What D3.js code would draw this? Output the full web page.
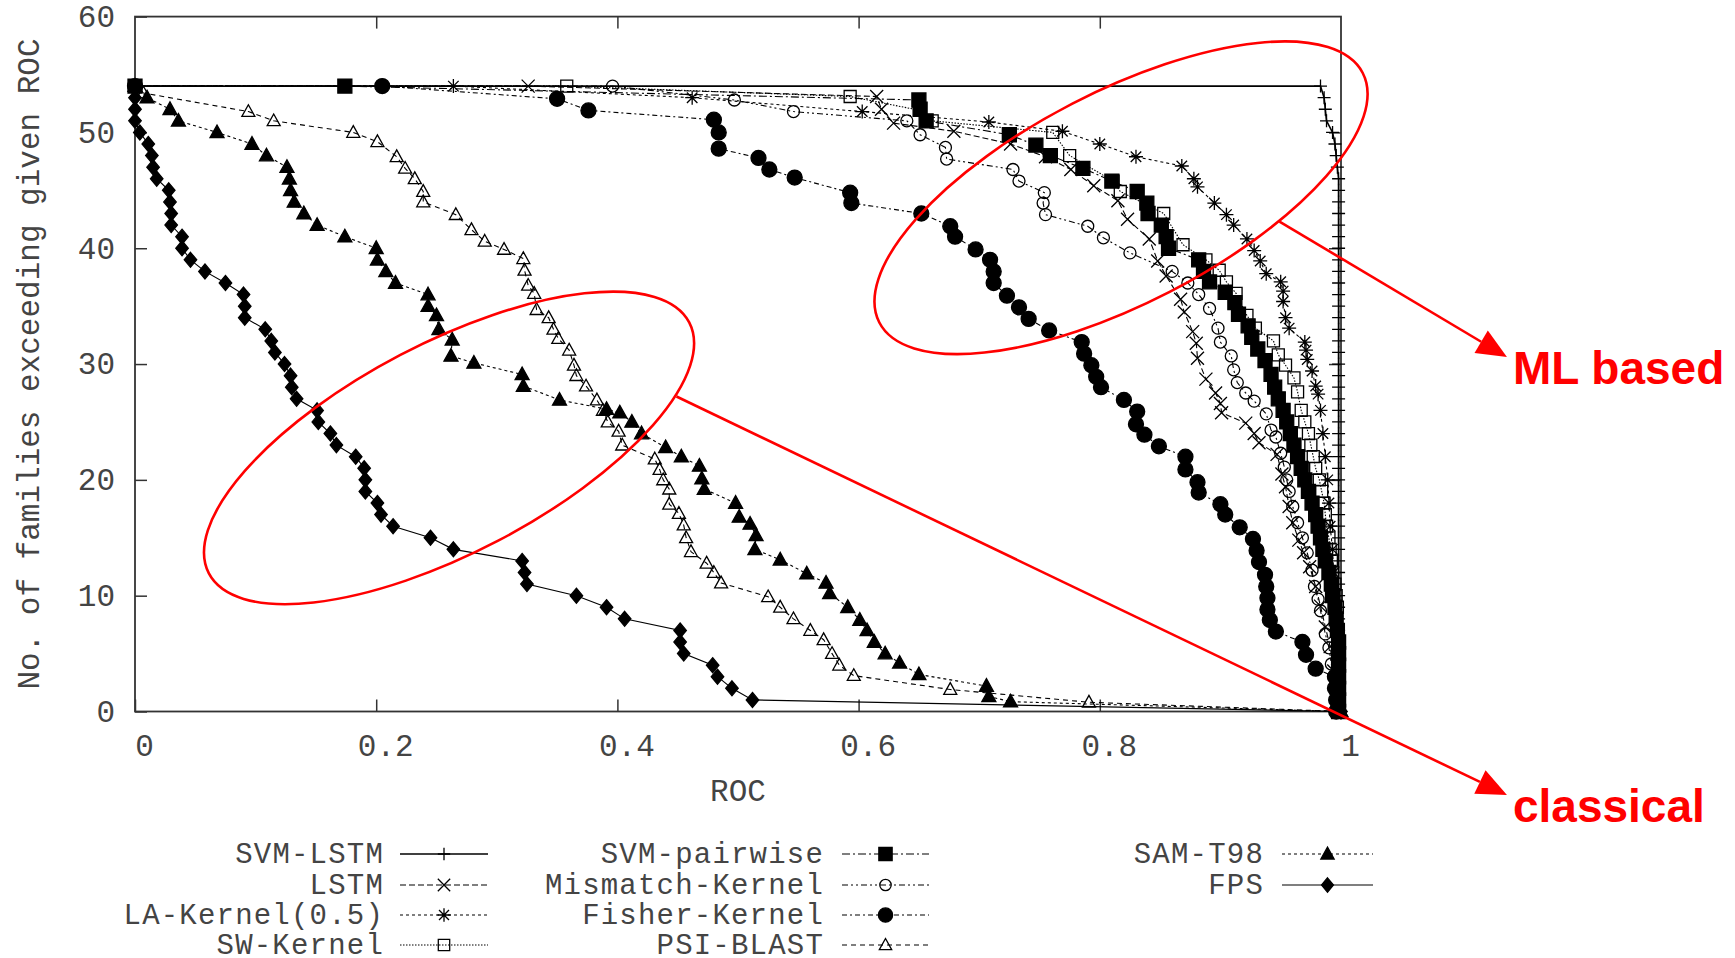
<!DOCTYPE html>
<html>
<head>
<meta charset="utf-8">
<script src="https://cdn.jsdelivr.net/npm/d3@7"></script>
<style>
  body { margin: 0; background: #fff; }
  .mono { font-family: "Liberation Mono", "DejaVu Sans Mono", monospace; }
</style>
</head>
<body>
<svg id="chart" width="1735" height="958"></svg>
<script>
// ---- data: [ROC, no. of families] ----
const xTicks = [0, 0.2, 0.4, 0.6, 0.8, 1];
const yTicks = [0, 10, 20, 30, 40, 50, 60];

const svmLstm = [[0,54],[0.983,54],[0.986,53],[0.987,52],[0.988,51],[0.993,50],[0.995,49],[0.996,48],[0.997,47],
  [0.998,46],[0.998,45],[0.998,44],[0.998,43],[0.998,42],[0.998,41],[0.998,40],[0.998,39],[0.998,38],[0.998,37],
  [0.998,36],[0.998,35],[0.998,34],[0.998,33],[0.998,32],[0.998,31],[0.998,30],[0.998,29],[0.998,28],[0.998,27],
  [0.998,26],[0.998,25],[0.998,24],[0.998,23],[0.998,22],[0.998,21],[0.998,20],[0.998,19],[0.998,18],[0.998,17],
  [0.998,16],[0.998,15],[0.998,14],[0.998,13],[0.998,12],[0.998,11],[0.998,10],[0.998,9],[0.998,8],[0.998,7],
  [0.998,6],[0.998,5],[0.998,4],[0.998,3],[0.998,2],[0.998,1],[0.998,0]];

const lstm = [[0,54],[0.326,54],[0.615,53.1],[0.619,52],[0.629,50.8],[0.679,50.1],[0.726,49],[0.755,47.9],[0.776,46.8],
  [0.795,45.4],[0.815,44.1],[0.823,42.5],[0.841,40.8],[0.848,38.9],[0.855,37.6],[0.867,35.6],[0.87,34.5],[0.877,32.8],
  [0.88,31.8],[0.881,30.5],[0.888,28.7],[0.896,27.5],[0.9,26.6],[0.901,25.8],[0.921,24.9],[0.928,24],[0.932,23.2],
  [0.947,22.2],[0.951,20.5],[0.954,19.4],[0.957,17.7],[0.96,16.3],[0.965,14.8],[0.969,13.7],[0.974,12.5],[0.979,10.8],
  [0.983,9.1],[0.987,7.3],[0.991,5.6],[0.994,3.5],[0.996,2],[0.997,0]];

const laKernel = [[0,54],[0.264,54],[0.462,53],[0.603,51.8],[0.708,50.9],[0.769,50.1],[0.8,49],[0.83,47.9],[0.868,47.1],
  [0.878,46],[0.881,45.3],[0.895,43.9],[0.905,42.9],[0.911,42],[0.922,40.8],[0.928,39.8],[0.933,38.9],[0.938,37.8],
  [0.95,37.1],[0.952,36.3],[0.952,35.4],[0.954,34],[0.957,33.1],[0.97,31.9],[0.971,31.2],[0.972,30.4],[0.976,29.4],
  [0.979,28.1],[0.981,27.4],[0.983,26],[0.985,24],[0.987,22],[0.989,20],[0.99,18],[0.991,16],[0.993,14],[0.994,12],
  [0.995,10],[0.996,8],[0.997,6],[0.998,4],[0.998,2],[0.999,0]];

const swKernel = [[0,54],[0.358,54],[0.593,53.1],[0.651,51.9],[0.661,51],[0.761,50],[0.775,48],[0.811,45.8],[0.817,44.9],
  [0.853,43],[0.869,40.3],[0.888,39],[0.899,38.1],[0.905,37.1],[0.913,36.1],[0.922,34.2],[0.929,33.1],[0.944,32],
  [0.948,30.8],[0.954,29.9],[0.961,28.8],[0.964,27.6],[0.967,26],[0.97,25],[0.973,24],[0.975,23],[0.977,22],[0.979,21],
  [0.982,20],[0.984,19],[0.986,18],[0.987,17],[0.988,16],[0.99,15],[0.991,14],[0.992,13],[0.993,12],[0.995,11],
  [0.996,10],[0.997,9],[0.997,7],[0.998,5],[0.998,3],[0.998,1],[0.998,0]];

const svmPairwise = [[0,54],[0.174,54],[0.65,52.8],[0.651,52],[0.656,51],[0.725,49.8],[0.747,48.9],[0.759,48],[0.786,46.9],
  [0.81,45.8],[0.831,44.9],[0.839,43.9],[0.84,43],[0.851,42],[0.855,41],[0.857,40],[0.882,39],[0.886,38],[0.891,37.1],
  [0.904,36.2],[0.912,35.3],[0.915,34.3],[0.923,33.3],[0.926,32.3],[0.931,31.3],[0.937,30.3],[0.942,29.1],[0.945,28],
  [0.948,27],[0.952,26],[0.955,25],[0.958,24],[0.961,23],[0.964,22],[0.967,21],[0.97,20],[0.973,19],[0.976,18],
  [0.979,17],[0.981,16],[0.983,15],[0.985,14],[0.987,13],[0.99,12],[0.992,11],[0.993,10],[0.995,9],[0.996,8],
  [0.997,7],[0.998,6],[0.998,5],[0.998,4],[0.998,3],[0.998,2],[0.998,1],[0.998,0]];

const mismatch = [[0,54],[0.396,54],[0.497,52.8],[0.546,51.8],[0.64,51],[0.651,49.8],[0.672,48.7],[0.673,47.7],[0.728,46.8],
  [0.733,45.8],[0.754,44.8],[0.753,43.9],[0.755,42.9],[0.79,41.9],[0.803,40.9],[0.825,39.6],[0.86,38],[0.873,37],
  [0.882,36],[0.891,34.8],[0.898,33.1],[0.9,31.9],[0.909,30.7],[0.911,29.5],[0.914,28.4],[0.921,27.5],[0.928,26.8],
  [0.938,25.7],[0.942,24.3],[0.946,23.7],[0.95,22.3],[0.953,21.1],[0.955,20],[0.957,19],[0.96,17.7],[0.964,16.3],
  [0.968,15],[0.972,13.7],[0.976,12.2],[0.978,10.8],[0.981,9.7],[0.983,8.7],[0.987,6.7],[0.99,5.5],[0.992,4.1],
  [0.994,3],[0.995,2],[0.996,1],[0.997,0]];

const fisher = [[0,54],[0.205,54],[0.35,52.9],[0.376,51.9],[0.48,51.1],[0.484,50],[0.484,48.6],[0.517,47.8],[0.526,46.8],
  [0.547,46.1],[0.593,44.8],[0.594,43.9],[0.652,43],[0.676,41.9],[0.68,41],[0.697,39.9],[0.709,39],[0.712,38],[0.712,37],
  [0.723,35.9],[0.733,34.9],[0.741,33.9],[0.758,32.9],[0.785,31.9],[0.787,30.9],[0.793,29.9],[0.797,28.9],[0.801,28],
  [0.82,26.9],[0.831,25.9],[0.83,24.8],[0.837,23.9],[0.849,22.9],[0.871,22],[0.871,20.9],[0.881,19.8],[0.882,18.9],
  [0.9,17.9],[0.904,17],[0.916,15.9],[0.927,14.9],[0.93,13.9],[0.932,12.9],[0.937,11.8],[0.938,10.8],[0.939,9.8],
  [0.939,8.8],[0.941,7.9],[0.946,6.9],[0.968,6],[0.971,4.9],[0.979,3.7],[0.995,3],[0.995,2],[0.996,1],[0.996,0]];

const psiBlast = [[0,54],[0.007,53.4],[0.094,51.8],[0.115,51],[0.181,50],[0.201,49.2],[0.217,47.9],[0.224,46.9],[0.232,46],
  [0.239,44.9],[0.239,44],[0.266,42.9],[0.279,41.6],[0.29,40.6],[0.306,39.9],[0.322,39.1],[0.323,38.1],[0.326,36.8],
  [0.331,36.1],[0.333,34.7],[0.343,34],[0.347,33],[0.351,32.2],[0.36,31.2],[0.364,29.9],[0.366,29],[0.374,28.1],
  [0.383,26.9],[0.388,26],[0.392,25],[0.401,24.2],[0.404,23],[0.431,21.8],[0.435,20.9],[0.438,20],[0.443,19.2],
  [0.443,17.9],[0.451,17.1],[0.455,16.1],[0.457,15],[0.461,13.8],[0.474,12.8],[0.48,12],[0.486,11.1],[0.525,9.9],
  [0.535,9],[0.546,8],[0.56,7],[0.571,6.2],[0.578,5],[0.584,4],[0.596,3.1],[0.676,1.9],[0.791,0.8],[1,0]];

const samT98 = [[0,54],[0.01,53],[0.029,52],[0.036,51],[0.068,50],[0.097,49],[0.109,48],[0.126,47],[0.128,46],[0.129,45],
  [0.132,44],[0.14,43],[0.151,42],[0.174,41],[0.2,40],[0.201,39],[0.208,38],[0.216,37],[0.243,36],[0.243,35],
  [0.25,34.2],[0.252,33],[0.263,32.1],[0.262,30.7],[0.281,30.1],[0.321,29.1],[0.322,28.1],[0.352,26.9],[0.391,26.1],
  [0.402,25.8],[0.412,25],[0.42,24],[0.44,22.8],[0.453,22],[0.468,21.2],[0.47,20.1],[0.472,19.2],[0.498,18],
  [0.501,16.8],[0.51,16.2],[0.515,15.2],[0.514,14],[0.535,13.1],[0.557,11.9],[0.573,11.1],[0.576,10.2],[0.591,9],
  [0.601,7.9],[0.607,7],[0.613,6],[0.622,5],[0.634,4.2],[0.65,3.2],[0.706,2.2],[0.708,1.3],[0.726,0.85],[1,0]];

const fps = [[0,54],[0,53],[0,52],[0,51],[0.004,50],[0.011,49],[0.014,48],[0.015,47],[0.018,46],[0.028,45],[0.029,44],
  [0.03,43],[0.03,42],[0.039,41],[0.039,40],[0.046,39],[0.058,38],[0.075,37],[0.09,36],[0.091,35],[0.091,34],[0.108,33],
  [0.113,32],[0.116,31],[0.124,30],[0.129,29],[0.13,28],[0.134,27],[0.151,26],[0.152,25],[0.162,24],[0.167,23],
  [0.183,22],[0.19,21],[0.191,20],[0.191,19],[0.201,18],[0.204,17],[0.214,16],[0.245,15],[0.264,14],[0.321,13],
  [0.323,12],[0.325,11],[0.366,10],[0.391,9],[0.406,8],[0.452,7],[0.452,6],[0.455,5],[0.479,4],[0.483,3],[0.495,2],
  [0.512,1],[1,0]];

// legend order, with the gnuplot style of each curve
const series = [
  {name: "SVM-LSTM",        values: svmLstm,     marker: "plus",     size: 13, filled: false, dash: null,            width: 1.6},
  {name: "LSTM",            values: lstm,        marker: "cross",    size: 13, filled: false, dash: "6,3",           width: 1.1},
  {name: "LA-Kernel(0.5)",  values: laKernel,    marker: "star",     size: 14, filled: false, dash: "3,3",           width: 1.1},
  {name: "SW-Kernel",       values: swKernel,    marker: "square",   size: 12, filled: false, dash: "1.5,1.5",       width: 1.1},
  {name: "SVM-pairwise",    values: svmPairwise, marker: "square",   size: 14, filled: true,  dash: "8,3,2,3",       width: 1.1},
  {name: "Mismatch-Kernel", values: mismatch,    marker: "circle",   size: 12, filled: false, dash: "6,3,2,3,2,3",   width: 1.1},
  {name: "Fisher-Kernel",   values: fisher,      marker: "circle",   size: 15, filled: true,  dash: "5,3,2,3",       width: 1.1},
  {name: "PSI-BLAST",       values: psiBlast,    marker: "triangle", size: 13, filled: false, dash: "5,4",           width: 1.1},
  {name: "SAM-T98",         values: samT98,      marker: "triangle", size: 14, filled: true,  dash: "3,3",           width: 1.1},
  {name: "FPS",             values: fps,         marker: "diamond",  size: 12.5, filled: true, dash: null,           width: 1.1}
];

// ---- layout ----
const svg = d3.select("#chart");
svg.append("rect").attr("width", 1735).attr("height", 958).attr("fill", "#fff");

const plot = {left: 135, right: 1341, top: 16.6, bottom: 711.5};
const x = d3.scaleLinear().domain([0, 1]).range([plot.left, plot.right]);
const y = d3.scaleLinear().domain([0, 60]).range([plot.bottom, plot.top]);
const axisColor = "#333";
const textColor = "#444";

function markerPath(type, s) {
  const h = s / 2;
  switch (type) {
    case "plus": return `M${-h},0H${h}M0,${-h}V${h}`;
    case "cross": return `M${-h},${-h}L${h},${h}M${-h},${h}L${h},${-h}`;
    case "star": {
      const c = h * 0.75;
      return `M${-h},0H${h}M0,${-h}V${h}M${-c},${-c}L${c},${c}M${-c},${c}L${c},${-c}`;
    }
    case "square": return `M${-h},${-h}H${h}V${h}H${-h}Z`;
    case "circle": return `M${h},0A${h},${h} 0 1,1 ${-h},0A${h},${h} 0 1,1 ${h},0Z`;
    case "triangle": return `M0,${-h * 1.05}L${h},${h * 0.75}L${-h},${h * 0.75}Z`;
    case "diamond": return `M0,${-h * 1.2}L${h},0L0,${h * 1.2}L${-h},0Z`;
  }
}

// axes
const gx = svg.append("g").attr("transform", `translate(0,${plot.bottom})`)
  .call(d3.axisBottom(x).tickValues(xTicks).tickSizeInner(-12).tickSizeOuter(0).tickPadding(22).tickFormat(d => String(d)));
gx.selectAll("text").attr("dx", 9);

const gy = svg.append("g").attr("transform", `translate(${plot.left},0)`)
  .call(d3.axisLeft(y).tickValues(yTicks).tickSizeInner(-12).tickSizeOuter(0).tickPadding(20));

const gt = svg.append("g").attr("transform", `translate(0,${plot.top})`)
  .call(d3.axisTop(x).tickValues(xTicks.slice(1, -1)).tickSizeInner(-12).tickSizeOuter(0).tickFormat(""));
const gr = svg.append("g").attr("transform", `translate(${plot.right},0)`)
  .call(d3.axisRight(y).tickValues(yTicks.slice(1, -1)).tickSizeInner(-12).tickSizeOuter(0).tickFormat(""));

[gx, gy, gt, gr].forEach(g => {
  g.select(".domain").remove();
  g.selectAll("line").attr("stroke", axisColor).attr("stroke-width", 1.5);
  g.selectAll("text").attr("class", "mono").attr("font-family", null)
    .attr("font-size", 31).attr("fill", textColor);
});

svg.append("rect")
  .attr("x", plot.left).attr("y", plot.top)
  .attr("width", plot.right - plot.left).attr("height", plot.bottom - plot.top)
  .attr("fill", "none").attr("stroke", axisColor).attr("stroke-width", 1.8);

svg.append("text").attr("class", "mono")
  .attr("transform", `translate(28,${(plot.top + plot.bottom) / 2}) rotate(-90)`)
  .attr("text-anchor", "middle").attr("dy", "0.35em")
  .attr("font-size", 31).attr("fill", textColor)
  .text("No. of families exceeding given ROC");

svg.append("text").attr("class", "mono")
  .attr("x", (plot.left + plot.right) / 2).attr("y", 801)
  .attr("text-anchor", "middle")
  .attr("font-size", 31).attr("fill", textColor)
  .text("ROC");

// curves
const line = d3.line().x(d => x(d[0])).y(d => y(d[1]));
const gCurves = svg.append("g");
series.forEach(s => {
  const g = gCurves.append("g");
  g.append("path").datum(s.values)
    .attr("d", line)
    .attr("fill", "none")
    .attr("stroke", "#000")
    .attr("stroke-width", s.width)
    .attr("stroke-dasharray", s.dash);
  g.selectAll(".pt").data(s.values).join("path")
    .attr("class", "pt")
    .attr("transform", d => `translate(${x(d[0])},${y(d[1])})`)
    .attr("d", markerPath(s.marker, s.size))
    .attr("fill", s.filled ? "#000" : "none")
    .attr("stroke", "#000")
    .attr("stroke-width", 1.3);
});

// legend: three columns, gnuplot style
const legendCols = [
  {textRight: 384, x0: 400, x1: 488},
  {textRight: 824, x0: 842, x1: 929},
  {textRight: 1264, x0: 1282, x1: 1373}
];
const legendRowY = [854, 885, 915, 945];
const gLegend = svg.append("g");
series.forEach((s, i) => {
  const col = legendCols[Math.floor(i / 4)];
  const cy = legendRowY[i % 4];
  gLegend.append("text").attr("class", "mono")
    .attr("x", col.textRight).attr("y", cy + 9)
    .attr("text-anchor", "end")
    .attr("font-size", 29).attr("letter-spacing", 1.2)
    .attr("fill", textColor)
    .text(s.name);
  gLegend.append("line")
    .attr("x1", col.x0).attr("x2", col.x1).attr("y1", cy).attr("y2", cy)
    .attr("stroke", "#000").attr("stroke-width", s.width)
    .attr("stroke-dasharray", s.dash);
  gLegend.append("path")
    .attr("transform", `translate(${(col.x0 + col.x1) / 2},${cy})`)
    .attr("d", markerPath(s.marker, s.size * 0.95))
    .attr("fill", s.filled ? "#000" : "none")
    .attr("stroke", "#000").attr("stroke-width", 1.3);
});

// red annotations
const red = "#ff0000";
const ann = svg.append("g");
const ellipses = [
  {center: [0.8176, 44.36], rx: 272, ry: 106, angle: -27.3},
  {center: [0.2604, 22.76], rx: 271, ry: 105, angle: -27.6}
];
ellipses.forEach(e => {
  ann.append("ellipse")
    .attr("transform", `translate(${x(e.center[0])},${y(e.center[1])}) rotate(${e.angle})`)
    .attr("rx", e.rx).attr("ry", e.ry)
    .attr("fill", "none").attr("stroke", red).attr("stroke-width", 2.6);
});

const arrows = [
  {from: [0.949, 42.3], to: [1.1376, 30.6], label: "ML based", labelY: 384},
  {from: [0.449, 27.2], to: [1.1376, -7.2], label: "classical", labelY: 822}
];
arrows.forEach(a => {
  const x0 = x(a.from[0]), y0 = y(a.from[1]), x1 = x(a.to[0]), y1 = y(a.to[1]);
  const L = Math.hypot(x1 - x0, y1 - y0), ux = (x1 - x0) / L, uy = (y1 - y0) / L;
  const hl = 30, hw = 13;
  const bx = x1 - ux * hl, by = y1 - uy * hl;
  ann.append("line")
    .attr("x1", x0).attr("y1", y0).attr("x2", bx).attr("y2", by)
    .attr("stroke", red).attr("stroke-width", 2.6);
  ann.append("path")
    .attr("d", `M${x1},${y1}L${bx - uy * hw},${by + ux * hw}L${bx + uy * hw},${by - ux * hw}Z`)
    .attr("fill", red);
  ann.append("text")
    .attr("x", x1 + 6).attr("y", a.labelY)
    .attr("font-family", "'Liberation Sans', Arial, sans-serif")
    .attr("font-weight", "bold")
    .attr("font-size", 46)
    .attr("fill", red)
    .text(a.label);
});
</script>
</body>
</html>
